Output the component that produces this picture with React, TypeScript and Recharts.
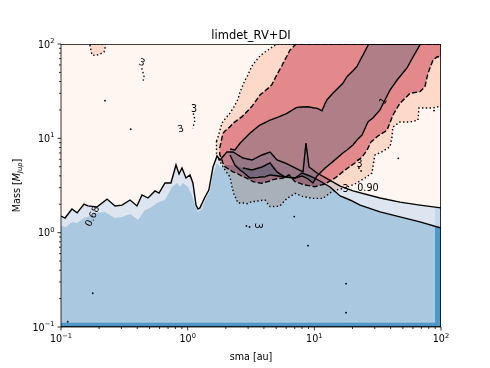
import {
	Area,
	ComposedChart,
	Line,
	ReferenceDot,
	Scatter,
	XAxis,
	YAxis,
} from "recharts";

type Pt = [number, number];
type Band = [number, number, number];

// [sma au, mass Mjup] - upper edge of the pale blue band (black contour)
const bandTop: Pt[] = [
	[0.1, 1.5], [0.1076, 1.43], [0.122, 1.78], [0.134, 1.62], [0.152, 2.01],
	[0.163, 1.92], [0.192, 1.87], [0.231, 2.27], [0.267, 1.92], [0.303, 1.96],
	[0.351, 2.22], [0.398, 1.92], [0.436, 2.51], [0.486, 2.33], [0.552, 2.77],
	[0.594, 2.63], [0.662, 3.36], [0.738, 3.36], [0.809, 5.22], [0.855, 4.19],
	[0.902, 4.85], [0.97, 3.8], [1.043, 4.09], [1.1, 3.36], [1.164, 1.96],
	[1.207, 1.78], [1.25, 1.83], [1.37, 2.39], [1.47, 2.83], [1.585, 4.97],
	[1.705, 6.5], [1.8, 5.89], [2.04, 7.16], [2.28, 7.16], [2.73, 6.19],
	[3.22, 5.89], [3.86, 6.66], [4.47, 7.16], [5.07, 5.89], [5.87, 5.48],
	[7.04, 4.85], [8.14, 4.4], [8.59, 8.92], [9.08, 4.97], [10.5, 4.29],
	[13.1, 3.62], [16.0, 3.12], [20.2, 2.77], [33.0, 2.33], [47.4, 2.11],
	[68.2, 1.96], [100, 1.83],
];

// top of the mid blue fill (second contour on the right)
const blueTop: Pt[] = [
	[0.1, 1.18], [0.1095, 1.15], [0.122, 1.3], [0.134, 1.27], [0.152, 1.43],
	[0.169, 1.5], [0.186, 1.62], [0.222, 1.66], [0.267, 1.43], [0.303, 1.47],
	[0.351, 1.58], [0.406, 1.36], [0.46, 1.74], [0.505, 1.83], [0.573, 2.06],
	[0.662, 2.22], [0.752, 3.05], [0.824, 3.36], [0.87, 3.05], [0.918, 3.36],
	[1.006, 3.05], [1.08, 2.51], [1.143, 1.92], [1.207, 1.66], [1.297, 1.78],
	[1.396, 2.33], [1.5, 2.7], [1.585, 4.19], [1.705, 5.48], [1.8, 4.97],
	[2.04, 5.22], [2.28, 5.22], [2.73, 4.85], [3.22, 4.62], [3.86, 4.97],
	[4.47, 5.48], [5.07, 4.4], [5.87, 3.89], [7.04, 3.8], [8.0, 4.29],
	[9.25, 3.99], [11.1, 3.53], [13.3, 3.05], [16.0, 2.45], [19.1, 2.22],
	[23.0, 1.96], [33.0, 1.66], [47.4, 1.47], [68.2, 1.3], [100, 1.12],
];

// [sma, low mass, high mass]
const plotBox: Band[] = [[0.1, 0.1, 100], [100, 0.1, 100]];
const rightSide: Pt[] = [[100, 0.1], [100, 100]];
const edgeBottom: Band[] = [[0.1, 0.1, 0.111], [100, 0.1, 0.111]];
const edgeRightDark: Band[] = [[89.7, 0.1, 1.16], [100, 0.1, 1.12]];
const edgeRightLight: Band[] = [[89.7, 1.16, 1.87], [100, 1.12, 1.83]];

// 3 sigma (dotted) region
const sigma3: Band[] = [
	[1.689, 6.5, 9.37], [1.736, 6.19, 10.3], [1.866, 5.22, 14.5], [1.97, 4.62, 16.0],
	[2.16, 3.89, 18.6], [2.24, 3.05, 20.0], [2.32, 2.57, 21.5], [2.5, 2.06, 26.1],
	[2.59, 2.06, 31.0], [2.84, 2.06, 41.5], [2.94, 2.03, 44.7], [3.22, 2.14, 58.5],
	[3.4, 2.14, 64.4], [3.72, 2.19, 74.6], [4.08, 2.22, 82.2], [4.31, 2.01, 86.3],
	[4.47, 1.89, 89.5], [5.07, 1.9, 100], [5.36, 1.92, 100], [6.08, 2.31, 100],
	[7.04, 2.61, 100], [8.14, 2.41, 100], [9.76, 2.31, 100], [11.7, 2.31, 100],
	[14.0, 2.77, 100], [17.5, 2.98, 100], [20.9, 3.28, 100], [25.1, 3.8, 100],
	[28.5, 4.29, 100], [29.0, 4.97, 100], [29.6, 5.89, 100], [30.1, 6.66, 100],
	[34.2, 7.21, 100], [39.6, 8.16, 100], [41.0, 10.3, 100], [41.8, 13.2, 100],
	[47.4, 14.9, 100], [56.9, 14.9, 100], [65.8, 15.6, 100], [67.0, 21.0, 100],
	[86.5, 21.0, 100], [100, 22.0, 100],
];

// 2 sigma (dashed) region
const sigma2: Band[] = [
	[1.784, 7.16, 7.9], [1.8, 6.66, 8.15], [1.9, 5.48, 11.3], [1.97, 5.0, 11.96],
	[2.16, 4.62, 13.3], [2.28, 4.4, 14.4], [2.45, 4.26, 15.5], [2.69, 3.94, 17.0],
	[2.84, 3.85, 18.3], [3.22, 3.53, 21.9], [3.28, 3.47, 22.6], [3.72, 3.36, 28.8],
	[3.86, 3.34, 30.0], [4.47, 3.53, 35.3], [4.63, 3.62, 37.3], [5.07, 3.73, 47.5],
	[5.56, 3.78, 59.2], [5.66, 3.8, 62.4], [6.31, 4.09, 82.2], [6.43, 3.99, 86.3],
	[7.04, 3.47, 97.6], [7.17, 3.45, 100], [8.44, 3.2, 100], [10.1, 3.07, 100],
	[12.1, 3.28, 100], [14.6, 3.8, 100], [17.5, 4.62, 100], [20.9, 5.48, 100],
	[23.8, 6.34, 100], [26.1, 7.52, 100], [28.0, 9.14, 100], [31.8, 10.6, 100],
	[37.5, 12.2, 100], [41.8, 17.7, 100], [47.4, 23.5, 100], [56.9, 30.0, 100],
	[68.2, 31.2, 100], [74.7, 35.3, 100], [78.9, 48.9, 100], [86.5, 67.6, 100],
	[93.0, 72.8, 100], [100, 74.6, 100],
];

// 1 sigma (solid) region
const sigma1: Band[] = [
	[2.16, 6.66, 7.71], [2.36, 5.22, 7.52], [2.59, 4.62, 8.86], [2.73, 4.4, 9.53],
	[3.1, 3.8, 11.3], [3.59, 3.86, 13.35], [3.72, 3.89, 13.8], [4.08, 3.92, 14.7],
	[4.47, 4.09, 15.6], [5.17, 3.99, 16.8], [6.08, 3.89, 18.4], [7.04, 3.8, 20.8],
	[7.3, 3.84, 21.3], [8.0, 3.99, 21.5], [8.91, 3.71, 21.6], [9.76, 3.36, 21.1],
	[10.5, 3.99, 20.8], [10.7, 4.09, 20.6], [11.5, 4.51, 19.6], [12.1, 4.81, 23.1],
	[12.6, 5.03, 25.7], [14.0, 5.66, 30.0], [16.8, 7.0, 38.3], [18.1, 7.52, 45.0],
	[20.2, 8.5, 52.0], [21.7, 9.6, 57.8], [23.8, 10.85, 73.4], [24.2, 11.4, 76.1],
	[26.5, 14.9, 96.4], [27.0, 15.3, 100], [29.0, 16.4, 100], [33.0, 20.0, 100],
	[36.1, 25.5, 100], [39.6, 32.5, 100], [45.0, 41.5, 100], [53.9, 55.7, 100],
	[60.1, 72.8, 100], [68.2, 97.6, 100], [69.5, 100, 100],
];

// small 3 sigma island, top left
const island3: Band[] = [
	[0.169, 97.6, 100], [0.1757, 76.4, 100], [0.189, 75.5, 100],
	[0.203, 78.3, 100], [0.2185, 82.2, 100], [0.2245, 95.3, 100],
];

const curlA: Pt[] = [[0.434, 55.3], [0.446, 48.9], [0.452, 45.0], [0.446, 40.8]];
const curlB: Pt[] = [[1.108, 18.4], [1.143, 15.6], [1.096, 12.8]];
const sigma3Side: Pt[] = [[1.689, 9.37], [1.689, 6.5]];

const specks: Pt[] = [
	[0.2225, 25.1], [0.355, 12.5], [0.178, 0.228], [0.113, 0.114], [17.8, 0.288],
	[17.8, 0.142], [8.91, 0.728], [6.95, 1.48], [46.0, 6.14], [88.1, 19.7],
	[2.91, 1.18], [3.08, 1.15], [22.5, 4.85], [23.4, 4.51],
];

const contourLabels: [number, number, string][] = [
	[0.1757, 1.5, "0.68"],
	[26.5, 2.98, "0.90"],
	[17.6, 2.94, "3"],
	[22.7, 5.35, "3"],
	[3.59, 1.18, "3"],
	[0.878, 12.7, "3"],
	[1.122, 20.7, "3"],
	[0.436, 64.4, "3"],
	[34.8, 24.9, "1"],
];
const labelTilt = [-65, 0, 0, 0, 90, -15, 0, 20, -60];

const majorTicks = [0.1, 1, 10, 100];
const minorSteps = [2, 3, 4, 5, 6, 7, 8, 9];
const allTicks = [
	...majorTicks,
	...majorTicks.slice(0, -1).flatMap((d) => minorSteps.map((s) => d * s)),
].sort((a, b) => a - b);

const pts = (a: Pt[]) => a.map(([x, y]) => ({ x, y }));
const fromFloor = (a: Pt[]) => a.map(([x, y]) => ({ x, lo: 0.1, hi: y }));
const band = (a: Band[]) => a.map(([x, lo, hi]) => ({ x, lo, hi }));
const range = (d: any) => [d.lo, d.hi];

const FONT = "DejaVu Sans";
const BG = "#fff6f1";
const BLUE_PALE = "#dde6f0";
const BLUE_MID = "#aac8df";
const BLUE_DARK = "#4e97c9";
const BLUE_EDGE = "#c3d8eb";
// multiplied on top of each other: peach, red, mauve
const RED3 = "#fce1d5";
const RED2 = "#e6a0b0";
const RED1 = "#c6ecf6";
const DOT = "1.4 2.4";
const DASH = "5.2 2.3";

const isMajor = (v: number) =>
	Math.abs(Math.log10(v) - Math.round(Math.log10(v))) < 1e-6;
const expText = (v: number) => {
	const e = Math.round(Math.log10(v));
	return e < 0 ? `\u2212${-e}` : `${e}`;
};

const XTick = ({ x, y, payload }: any) => {
	const major = isMajor(payload.value);
	return (
		<g>
			<line x1={x} x2={x} y1={y} y2={y + (major ? 3.5 : 2)} stroke="#000" strokeWidth={0.8} />
			{major && (
				<text x={x} y={y + 15} textAnchor="middle" fontSize={9.6} fontFamily={FONT} fill="#000">
					10<tspan dy={-4.5} fontSize={6.7}>{expText(payload.value)}</tspan>
				</text>
			)}
		</g>
	);
};

const YTick = ({ x, y, payload }: any) => {
	const major = isMajor(payload.value);
	return (
		<g>
			<line x1={x} x2={x - (major ? 3.5 : 2)} y1={y} y2={y} stroke="#000" strokeWidth={0.8} />
			{major && (
				<text x={x - 6.5} y={y + 3.5} textAnchor="end" fontSize={9.6} fontFamily={FONT} fill="#000">
					10<tspan dy={-4.5} fontSize={6.7}>{expText(payload.value)}</tspan>
				</text>
			)}
		</g>
	);
};

const XTitle = () => (
	<text x={251} y={360} textAnchor="middle" fontSize={9.6} fontFamily={FONT} fill="#000">
		sma [au]
	</text>
);
// y label plus the chart title
const YTitle = () => (
	<g>
		<text x={251} y={38.5} textAnchor="middle" fontSize={11.5} fontFamily={FONT} fill="#000">
			limdet_RV+DI
		</text>
		<text transform="translate(20,185.5) rotate(-90)" textAnchor="middle" fontSize={9.6} fontFamily={FONT} fill="#000">
			Mass [<tspan fontStyle="italic">M</tspan>
			<tspan fontStyle="italic" fontSize={6.7} dy={1.8}>Jup</tspan>
			<tspan dy={-1.8}>]</tspan>
		</text>
	</g>
);

const fillArea = (key: string, data: Band[], fill: string, extra: any = {}) => (
	<Area
		key={key}
		data={band(data)}
		dataKey={range}
		type="linear"
		fill={fill}
		fillOpacity={1}
		stroke="none"
		dot={false}
		activeDot={false}
		isAnimationActive={false}
		{...extra}
	/>
);

const contour = (key: string, data: Pt[], dash?: string, width = 1.4) => (
	<Line
		key={key}
		data={pts(data)}
		dataKey="y"
		type="linear"
		stroke="#000"
		strokeWidth={width}
		strokeDasharray={dash}
		dot={false}
		activeDot={false}
		isAnimationActive={false}
	/>
);

export default function App() {
	return (
		<div style={{ width: 490, height: 368 }}>
			<style>{"body{margin:0} .mult{mix-blend-mode:multiply}"}</style>
			<ComposedChart width={490} height={368} margin={{ top: 44, right: 49, bottom: 0, left: 0 }}>
				{fillArea("bg", plotBox, BG)}
				<Area
					data={fromFloor(bandTop)}
					dataKey={range}
					type="linear"
					fill={BLUE_PALE}
					fillOpacity={1}
					stroke="none"
					dot={false}
					activeDot={false}
					isAnimationActive={false}
				/>
				<Area
					data={fromFloor(blueTop)}
					dataKey={range}
					type="linear"
					fill={BLUE_MID}
					fillOpacity={1}
					stroke="none"
					dot={false}
					activeDot={false}
					isAnimationActive={false}
				/>
				{fillArea("edgeB", edgeBottom, BLUE_DARK)}
				{fillArea("edgeRD", edgeRightDark, BLUE_DARK)}
				{fillArea("edgeRL", edgeRightLight, BLUE_EDGE)}
				{fillArea("s3", sigma3, RED3, { className: "mult", stroke: "#000", strokeWidth: 1.4, strokeDasharray: DOT })}
				{fillArea("s2", sigma2, RED2, { className: "mult", stroke: "#000", strokeWidth: 1.4, strokeDasharray: DASH })}
				{fillArea("s1", sigma1, RED1, { className: "mult", stroke: "#000", strokeWidth: 1.4 })}
				{fillArea("i3", island3, RED3, { className: "mult", stroke: "#000", strokeWidth: 1.4, strokeDasharray: DOT })}
				{fillArea("frame", plotBox, "none", { stroke: "#000", strokeWidth: 1.6 })}
				{contour("u", bandTop)}
				{contour("l", blueTop.filter(([x]) => x >= 2.7))}
				{contour("ca", curlA, DOT)}
				{contour("cb", curlB, DOT)}
				{contour("side", sigma3Side, DOT)}
				{contour("right", rightSide, undefined, 1.6)}
				<Scatter
					data={pts(specks)}
					dataKey="y"
					isAnimationActive={false}
					shape={(p: any) => <circle cx={p.cx} cy={p.cy} r={0.9} fill="#000" />}
				/>
				{contourLabels.map(([sx, my, text], i) => (
					<ReferenceDot
						key={`lab${i}`}
						x={sx}
						y={my}
						r={0}
						fill="none"
						stroke="none"
						label={{
							value: text,
							position: "center",
							angle: labelTilt[i],
							fontSize: 9.6,
							fontFamily: FONT,
							fill: "#000",
						}}
					/>
				))}
				<XAxis
					dataKey="x"
					type="number"
					scale="log"
					domain={[0.1, 100]}
					allowDataOverflow
					ticks={allTicks}
					interval={0}
					height={41}
					tickSize={0}
					tickMargin={0}
					tickLine={false}
					tick={<XTick />}
					axisLine={{ stroke: "#000", strokeWidth: 0.8 }}
					label={{ content: XTitle }}
				/>
				<YAxis
					dataKey="y"
					type="number"
					scale="log"
					domain={[0.1, 100]}
					allowDataOverflow
					ticks={allTicks}
					interval={0}
					width={61}
					tickSize={0}
					tickMargin={0}
					tickLine={false}
					tick={<YTick />}
					axisLine={{ stroke: "#000", strokeWidth: 0.8 }}
					label={{ content: YTitle }}
				/>
			</ComposedChart>
		</div>
	);
}
